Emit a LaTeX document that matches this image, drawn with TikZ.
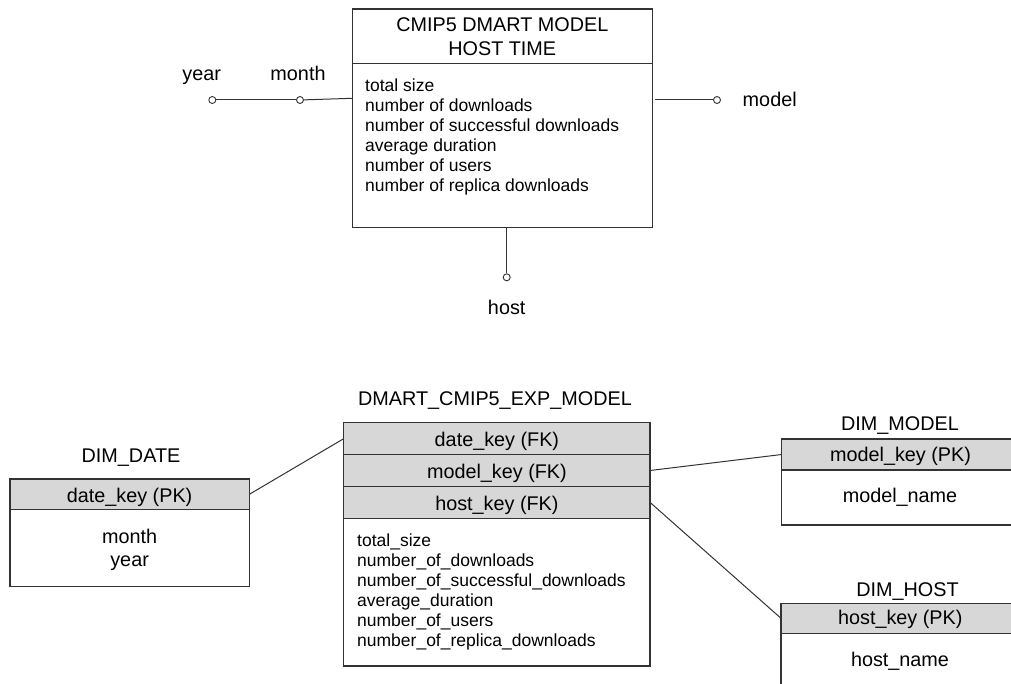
\documentclass[tikz,border=0pt]{standalone}
\usepackage{fontspec}
\setmainfont{Liberation Sans}
\definecolor{edge}{HTML}{333333}
\definecolor{keyfill}{HTML}{D7D7D7}
\begin{document}
\begin{tikzpicture}[x=1pt,y=-1pt,
  tbox/.style={draw=edge, line width=1.2pt, inner sep=0pt, outer sep=0pt, anchor=north west},
  keyrow/.style={tbox, fill=keyfill},
  big/.style={inner sep=0pt, anchor=base, font=\fontsize{19.8}{24}\selectfont},
  attr/.style={inner sep=0pt, anchor=base west, font=\fontsize{17.5}{20}\selectfont},
  dot/.style={circle, draw=edge, fill=white, line width=0.9pt, inner sep=0pt, minimum size=7pt},
  link/.style={draw=edge, line width=1pt}
]
\useasboundingbox (0,0) rectangle (1011,684);
\clip (0,0) rectangle (1011,684);

% ---------- conceptual cube: CMIP5 DMART MODEL HOST TIME ----------
\node[tbox, minimum width=300pt, minimum height=54.3pt] (toptitle) at (352.3,9) {};
\node[tbox, minimum width=300pt, minimum height=164pt] (topbody) at (352.3,63.3) {};
\node[big] (tt1) at (502.3,31.7) {CMIP5 DMART MODEL};
\node[big] (tt2) at (502.3,56) {HOST TIME};
\foreach \t [count=\i] in {total size, number of downloads, number of successful downloads,
    average duration, number of users, number of replica downloads}
  \node[attr] (ta\i) at (365,{71.7+20*\i}) {\t};

% dimension handles
\node[dot] (yearc) at (212.3,100) {};
\node[dot] (monthc) at (300,100) {};
\node[dot] (modelc) at (717,100) {};
\node[dot] (hostc) at (506.7,277.3) {};
\node[big] (yearl) at (201.7,81) {year};
\node[big] (monthl) at (298,81) {month};
\node[big] (modell) at (769.7,106.5) {model};
\node[big] (hostl) at (506.7,315) {host};
\coordinate (mjoin) at (352.3,98.3);

\draw[link] (yearc) -- (monthc);
\draw[link] (monthc) -- (mjoin);
\draw[link, shorten <=3pt] (topbody.east |- modelc) -- (modelc);
\draw[link] (hostc |- topbody.south) -- (hostc);

% ---------- fact table ----------
\node[big] (factl) at (495,405) {DMART\_CMIP5\_EXP\_MODEL};
\node[keyrow, minimum width=306.25pt, minimum height=31.9pt] (mk1) at (343.75,422.7) {};
\node[keyrow, minimum width=306.25pt, minimum height=31.8pt] (mk2) at (343.75,454.6) {};
\node[keyrow, minimum width=306.25pt, minimum height=31.9pt] (mk3) at (343.75,486.4) {};
\node[tbox, minimum width=306.25pt, minimum height=147.7pt] (mbody) at (343.75,518.3) {};
\node[big] (mk1t) at (496.9,446) {date\_key (FK)};
\node[big] (mk2t) at (496.9,478) {model\_key (FK)};
\node[big] (mk3t) at (496.9,510) {host\_key (FK)};
\foreach \t [count=\i] in {total\_size, number\_of\_downloads, number\_of\_successful\_downloads,
    average\_duration, number\_of\_users, number\_of\_replica\_downloads}
  \node[attr] (fa\i) at (357,{526+20*\i}) {\t};

% ---------- DIM_DATE ----------
\node[big] (ddl) at (131,462.5) {DIM\_DATE};
\node[keyrow, minimum width=239.3pt, minimum height=30.7pt] (ddhdr) at (10,479) {};
\node[tbox, minimum width=239.3pt, minimum height=77pt] (ddbody) at (10,509.7) {};
\node[big] (ddk) at (129.6,502) {date\_key (PK)};
\node[big] (ddm) at (129.6,543) {month};
\node[big] (ddy) at (129.6,566) {year};

% ---------- DIM_MODEL ----------
\node[big] (dml) at (900,430) {DIM\_MODEL};
\node[keyrow, minimum width=240pt, minimum height=31pt] (dmhdr) at (781.7,439) {};
\node[tbox, minimum width=240pt, minimum height=55pt] (dmbody) at (781.7,470) {};
\node[big] (dmk) at (900.5,461) {model\_key (PK)};
\node[big] (dmn) at (900,502) {model\_name};

% ---------- DIM_HOST ----------
\node[big] (dhl) at (907.5,596.5) {DIM\_HOST};
\node[keyrow, minimum width=240pt, minimum height=30pt] (dhhdr) at (781,603.3) {};
\node[tbox, minimum width=240pt, minimum height=80pt] (dhbody) at (781,633.3) {};
\node[big] (dhk) at (900.3,624) {host\_key (PK)};
\node[big] (dhn) at (900,666) {host\_name};

% ---------- key links ----------
\draw[link] (ddhdr.east) -- (mk1.west);
\draw[link] (mk2.east) -- (dmhdr.west);
\draw[link] (mk3.east) -- (dhhdr.west);
\end{tikzpicture}
\end{document}
